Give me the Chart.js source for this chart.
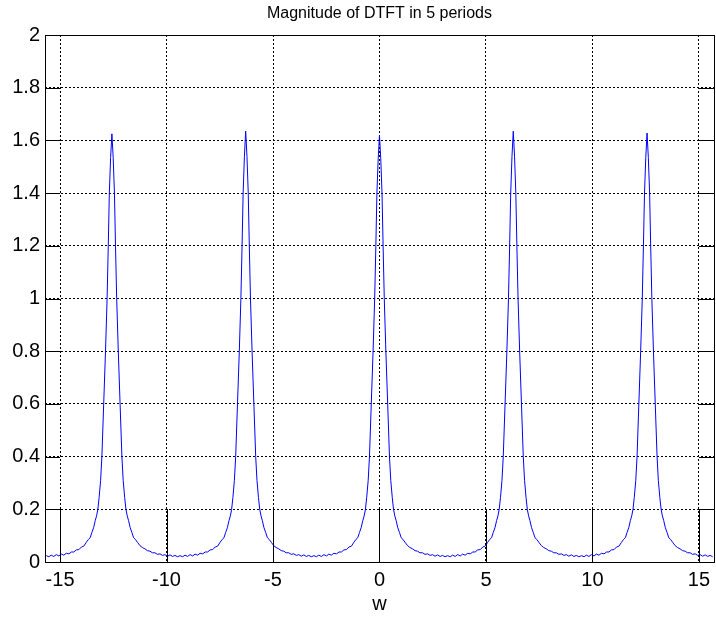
<!DOCTYPE html>
<html>
<head>
<meta charset="utf-8">
<title>Magnitude of DTFT in 5 periods</title>
<script src="https://cdn.jsdelivr.net/npm/chart.js@4.4.1/dist/chart.umd.min.js"></script>
<style>
	html, body { margin: 0; padding: 0; background: #ffffff; }
	#canvasdtft { display: block; }
</style>
</head>
<body>
<canvas id="canvasdtft" width="716" height="619"></canvas>
<script>

var charttitle = "Magnitude of DTFT in 5 periods";
var xlabel = "w";

// center of every period (multiples of 2*pi)
var periodcenters = [-4 * Math.PI, -2 * Math.PI, 0, 2 * Math.PI, 4 * Math.PI];

// w positions of the samples, relative to the center of their period
var offsets = [
	-3.08, -2.96, -2.85, -2.73, -2.61, -2.49, -2.38, -2.26, -2.14, -2.02, -1.90, -1.79, -1.67, -1.55, -1.43, -1.32, -1.20,
	-1.10, -1.02, -0.94, -0.86, -0.78, -0.72, -0.66, -0.60, -0.53, -0.47, -0.385, -0.30, -0.225, -0.17, -0.12, -0.06,
	0,
	0.06, 0.12, 0.17, 0.225, 0.30, 0.385, 0.47, 0.53, 0.60, 0.66, 0.72, 0.78, 0.86, 0.94, 1.02, 1.10,
	1.20, 1.32, 1.43, 1.55, 1.67, 1.79, 1.90, 2.02, 2.14, 2.26, 2.38, 2.49, 2.61, 2.73, 2.85, 2.96, 3.08
];

// |X(w)|, one list per period
var magperiod1 = [
	0.024, 0.020, 0.026, 0.021, 0.028, 0.023, 0.030, 0.026, 0.033, 0.031, 0.038, 0.038, 0.046, 0.047, 0.057, 0.060, 0.075,
	0.086, 0.092, 0.112, 0.130, 0.158, 0.175, 0.200, 0.245, 0.310, 0.400, 0.600, 0.800, 1.000, 1.200, 1.400, 1.535,
	1.625,
	1.535, 1.400, 1.200, 1.000, 0.800, 0.600, 0.400, 0.310, 0.245, 0.200, 0.175, 0.158, 0.130, 0.112, 0.092, 0.086,
	0.075, 0.062, 0.055, 0.050, 0.043, 0.041, 0.035, 0.035, 0.029, 0.031, 0.025, 0.028, 0.022, 0.027, 0.021, 0.025, 0.020
];
var magperiod2 = [
	0.024, 0.020, 0.026, 0.021, 0.028, 0.023, 0.030, 0.026, 0.033, 0.031, 0.038, 0.038, 0.046, 0.047, 0.057, 0.060, 0.075,
	0.086, 0.092, 0.112, 0.130, 0.158, 0.175, 0.200, 0.245, 0.310, 0.400, 0.600, 0.800, 1.000, 1.200, 1.400, 1.540,
	1.635,
	1.540, 1.400, 1.200, 1.000, 0.800, 0.600, 0.400, 0.310, 0.245, 0.200, 0.175, 0.158, 0.130, 0.112, 0.092, 0.086,
	0.075, 0.062, 0.055, 0.050, 0.043, 0.041, 0.035, 0.035, 0.029, 0.031, 0.025, 0.028, 0.022, 0.027, 0.021, 0.025, 0.020
];
var magperiod3 = [
	0.024, 0.020, 0.026, 0.021, 0.028, 0.023, 0.030, 0.026, 0.033, 0.031, 0.038, 0.038, 0.046, 0.047, 0.057, 0.060, 0.075,
	0.086, 0.092, 0.112, 0.130, 0.158, 0.175, 0.200, 0.245, 0.310, 0.400, 0.600, 0.800, 1.000, 1.200, 1.400, 1.530,
	1.620,
	1.530, 1.400, 1.200, 1.000, 0.800, 0.600, 0.400, 0.310, 0.245, 0.200, 0.175, 0.158, 0.130, 0.112, 0.092, 0.086,
	0.075, 0.062, 0.055, 0.050, 0.043, 0.041, 0.035, 0.035, 0.029, 0.031, 0.025, 0.028, 0.022, 0.027, 0.021, 0.025, 0.020
];
var magperiod4 = [
	0.024, 0.020, 0.026, 0.021, 0.028, 0.023, 0.030, 0.026, 0.033, 0.031, 0.038, 0.038, 0.046, 0.047, 0.057, 0.060, 0.075,
	0.086, 0.092, 0.112, 0.130, 0.158, 0.175, 0.200, 0.245, 0.310, 0.400, 0.600, 0.800, 1.000, 1.200, 1.400, 1.540,
	1.635,
	1.540, 1.400, 1.200, 1.000, 0.800, 0.600, 0.400, 0.310, 0.245, 0.200, 0.175, 0.158, 0.130, 0.112, 0.092, 0.086,
	0.075, 0.062, 0.055, 0.050, 0.043, 0.041, 0.035, 0.035, 0.029, 0.031, 0.025, 0.028, 0.022, 0.027, 0.021, 0.025, 0.020
];
var magperiod5 = [
	0.024, 0.020, 0.026, 0.021, 0.028, 0.023, 0.030, 0.026, 0.033, 0.031, 0.038, 0.038, 0.046, 0.047, 0.057, 0.060, 0.075,
	0.086, 0.092, 0.112, 0.130, 0.158, 0.175, 0.200, 0.245, 0.310, 0.400, 0.600, 0.800, 1.000, 1.200, 1.400, 1.535,
	1.628,
	1.535, 1.400, 1.200, 1.000, 0.800, 0.600, 0.400, 0.310, 0.245, 0.200, 0.175, 0.158, 0.130, 0.112, 0.092, 0.086,
	0.075, 0.062, 0.055, 0.050, 0.043, 0.041, 0.035, 0.035, 0.029, 0.031, 0.025, 0.028, 0.022, 0.027, 0.021, 0.025, 0.020
];

var xticks = [-15, -10, -5, 0, 5, 10, 15];
var yticks = [0, 0.2, 0.4, 0.6, 0.8, 1, 1.2, 1.4, 1.6, 1.8, 2];

var fontfamily = '"Liberation Sans", Arial, Helvetica, sans-serif';


// axes box, matlab style tick marks and the title
var boxplugin = {
	id: 'boxplugin',
	afterDatasetsDraw: function(chart){

		var ctx = chart.ctx;
		var area = chart.chartArea;
		var sx = chart.scales.x;
		var sy = chart.scales.y;

		ctx.save();
		ctx.strokeStyle = '#000000';
		ctx.lineWidth = 1;
		ctx.setLineDash([]);
		ctx.beginPath();

		xticks.forEach(function(v){
			var px = Math.round(sx.getPixelForValue(v)) + 0.5;
			ctx.moveTo(px, area.bottom);
			ctx.lineTo(px, area.bottom - 53);
		});

		yticks.forEach(function(v){
			var py = Math.round(sy.getPixelForValue(v)) + 0.5;
			ctx.moveTo(area.left, py);
			ctx.lineTo(area.left + 15, py);
			ctx.moveTo(area.right, py);
			ctx.lineTo(area.right - 15, py);
		});

		ctx.stroke();
		ctx.strokeRect(Math.round(area.left) + 0.5, Math.round(area.top) + 0.5, Math.round(area.right - area.left), Math.round(area.bottom - area.top));

		ctx.fillStyle = '#000000';
		ctx.font = '16px ' + fontfamily;
		ctx.textAlign = 'center';
		ctx.textBaseline = 'alphabetic';
		ctx.fillText(charttitle, (area.left + area.right) / 2, 18);
		ctx.restore();

	}
};


function init_chart_dtft(){

	if( typeof (Chart) === 'undefined'){ return; }

	var magperiods = [magperiod1, magperiod2, magperiod3, magperiod4, magperiod5];
	var points = [];

	for (var p = 0; p < periodcenters.length; p++){
		for (var i = 0; i < offsets.length; i++){
			points.push({ x: periodcenters[p] + offsets[i], y: magperiods[p][i] });
		}
	}

	var chart_line_settings = {
		type: 'line',
		data: {
			datasets: [{
				data: points,
				borderColor: "#0000ff",
				borderWidth: 1,
				pointRadius: 0,
				tension: 0,
				fill: false
			}]
		},
		options: {
			responsive: false,
			animation: false,
			layout: { padding: { top: 35, left: 0, right: 0, bottom: 0 } },
			plugins: {
				legend: { display: false },
				tooltip: { enabled: false },
				title: { display: false }
			},
			scales: {
				x: {
					type: 'linear',
					min: -5 * Math.PI,
					max: 5 * Math.PI,
					afterBuildTicks: function(scale){
						scale.ticks = xticks.map(function(v){ return { value: v }; });
					},
					afterFit: function(scale){ scale.height = 57; },
					grid: { color: '#000000', lineWidth: 1, drawTicks: false },
					border: { display: false, dash: [2, 2] },
					ticks: {
						color: '#000000',
						font: { size: 20, family: fontfamily },
						padding: 6,
						maxRotation: 0,
						autoSkip: false
					},
					title: {
						display: true,
						text: xlabel,
						color: '#000000',
						font: { size: 20, family: fontfamily },
						padding: { top: 0, bottom: 3 }
					}
				},
				y: {
					type: 'linear',
					min: 0,
					max: 2,
					afterBuildTicks: function(scale){
						scale.ticks = yticks.map(function(v){ return { value: v }; });
					},
					afterFit: function(scale){ scale.width = 45; },
					grid: { color: '#000000', lineWidth: 1, drawTicks: false },
					border: { display: false, dash: [2, 2] },
					ticks: {
						color: '#000000',
						font: { size: 20, family: fontfamily },
						padding: 5,
						autoSkip: false,
						callback: function(v){ return String(+Number(v).toFixed(1)); }
					}
				}
			}
		},
		plugins: [boxplugin]
	};

	var chart_element = document.getElementById('canvasdtft');
	var chart_dtft = new Chart(chart_element, chart_line_settings);

}

init_chart_dtft();

</script>
</body>
</html>
